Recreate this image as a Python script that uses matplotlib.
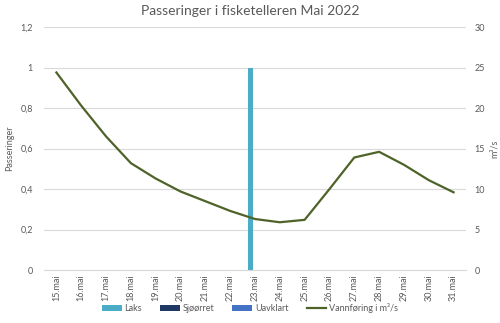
import matplotlib
matplotlib.use("Agg")
import matplotlib.pyplot as plt
import numpy as np
from matplotlib.ticker import FuncFormatter, MultipleLocator

plt.rcParams['font.family'] = ['Lato', 'DejaVu Sans']

days = ["15.mai", "16.mai", "17.mai", "18.mai", "19.mai", "20.mai", "21.mai", "22.mai",
        "23.mai", "24.mai", "25.mai", "26.mai", "27.mai", "28.mai", "29.mai", "30.mai", "31.mai"]
laks = [0, 0, 0, 0, 0, 0, 0, 0, 1, 0, 0, 0, 0, 0, 0, 0, 0]
sjoorret = [0] * 17
uavklart = [0] * 17
vannforing = [24.4, 20.3, 16.5, 13.2, 11.3, 9.7, 8.5, 7.3, 6.3, 5.9, 6.2, 10.0, 13.9, 14.6, 13.0, 11.1, 9.6]

fig = plt.figure(figsize=(5.0, 3.23), dpi=100)
ax = fig.add_axes([0.088, 0.164, 0.844, 0.752])
ax2 = ax.twinx()

x = np.arange(len(days))
w = 0.2
tc = '#595959'
ax.bar(x - w, laks, w, color='#4bacc6', label='Laks', zorder=3)
ax.bar(x, sjoorret, w, color='#1f3864', label='Sjøørret', zorder=3)
ax.bar(x + w, uavklart, w, color='#4472c4', label='Uavklart', zorder=3)
ax2.plot(x, vannforing, color='#4f6228', lw=1.6, label='Vannføring i m³/s')

ax.set_xlim(-0.5, len(days) - 0.5)
ax.set_ylim(0, 1.2)
ax2.set_ylim(0, 30)
ax.yaxis.set_major_locator(MultipleLocator(0.2))
ax2.yaxis.set_major_locator(MultipleLocator(5))
ax.yaxis.set_major_formatter(FuncFormatter(lambda v, p: ('%g' % round(v, 1)).replace('.', ',')))
ax.grid(axis='y', color='#d9d9d9', lw=0.8, zorder=0)
ax.set_axisbelow(True)

for a in (ax, ax2):
    for s in a.spines.values():
        s.set_visible(False)
    a.tick_params(length=0, labelsize=6.5, labelcolor=tc, pad=8)
ax2.tick_params(pad=6)
ax.spines['bottom'].set_visible(True)
ax.spines['bottom'].set_color('#d9d9d9')
ax.set_xticks(x)
ax.set_xticklabels(days, rotation=90)
ax.tick_params(axis='x', pad=3)

ax.set_ylabel('Passeringer', fontsize=6.5, color=tc)
ax.yaxis.set_label_coords(-0.071, 0.5)
ax2.set_ylabel('m³/s', fontsize=6.5, color=tc)
ax2.yaxis.set_label_coords(1.057, 0.5)

fig.suptitle('Passeringer i fisketelleren Mai 2022', fontsize=10, color='#595959', y=0.985)

h1, l1 = ax.get_legend_handles_labels()
h2, l2 = ax2.get_legend_handles_labels()
fig.legend(h1 + h2, l1 + l2, loc='center', bbox_to_anchor=(0.5, 0.045), ncol=4, frameon=False,
           fontsize=6.5, labelcolor=tc, handlelength=2.2, handleheight=0.6, columnspacing=2.0, handletextpad=0.3)

fig.savefig('out.png', dpi=100)
